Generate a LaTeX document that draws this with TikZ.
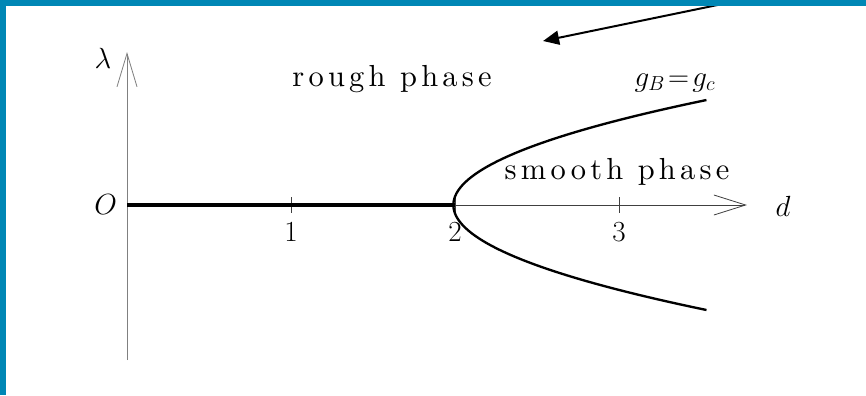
\documentclass[tikz,border=0pt]{standalone}
\usepackage{amsmath,amssymb}
\usepackage{fontspec}
\newfontfamily\spacedrm{lmroman10-regular.otf}[LetterSpace=14]
\usetikzlibrary{arrows.meta}
\definecolor{frameblue}{RGB}{0,135,181}
\tikzset{
  lab/.style={font=\fontsize{25}{28}\selectfont},
  phase/.style={font=\fontsize{26}{29}\selectfont\spacedrm},
  axisline/.style={line width=0.7pt,black!75},
}

\begin{document}
\begin{tikzpicture}[x=4.92cm,y=3cm]
\useasboundingbox (-0.7744,-1.9) rectangle (4.5061,2.05);
% axes
\draw[axisline,black!50,-{Straight Barb[length=1cm,width=0.6cm]}] (0,-1.55) -- (0,1.53);
\draw[axisline,-{Straight Barb[length=0.95cm,width=0.6cm]}] (0,0) -- (3.78,0);
\foreach \t in {1,2,3}{
  \draw[axisline] (\t,0.08) -- (\t,-0.08);
  \node[lab] (tick\t) at (\t,-0.27) {$\t$};
}
% phase boundary
\draw[line width=2.6pt] (0,0) -- (2,0);
\draw[line width=2pt] plot[domain=-1.05:1.05,samples=80] ({1.99+1.4*\x*\x},{\x});
% labels
\node[lab] (lam) at (-0.146,1.47) {$\lambda$};
\node[lab] (orig) at (-0.13,0) {$O$};
\node[lab] (dlab) at (4.0,-0.01) {$d$};
\node[phase] (rough) at (1.616,1.26) {rough phase};
\node[phase] (smooth) at (2.988,0.33) {smooth phase};
\node[lab] (crit) at (3.341,1.22) {$g_B\!=\!g_c$};
% pointer
\coordinate (ptip) at (2.537,1.64);
\coordinate (ptail) at (3.689,2.03);
\draw[line width=1.7pt,-{Triangle[length=0.48cm,width=0.42cm]}] (ptail) -- (ptip);
% frame
\fill[frameblue] (-0.7744,2.05) rectangle (4.5061,1.99);
\fill[frameblue] (-0.7744,2.05) rectangle (-0.7378,-1.9);
\end{tikzpicture}
\end{document}
